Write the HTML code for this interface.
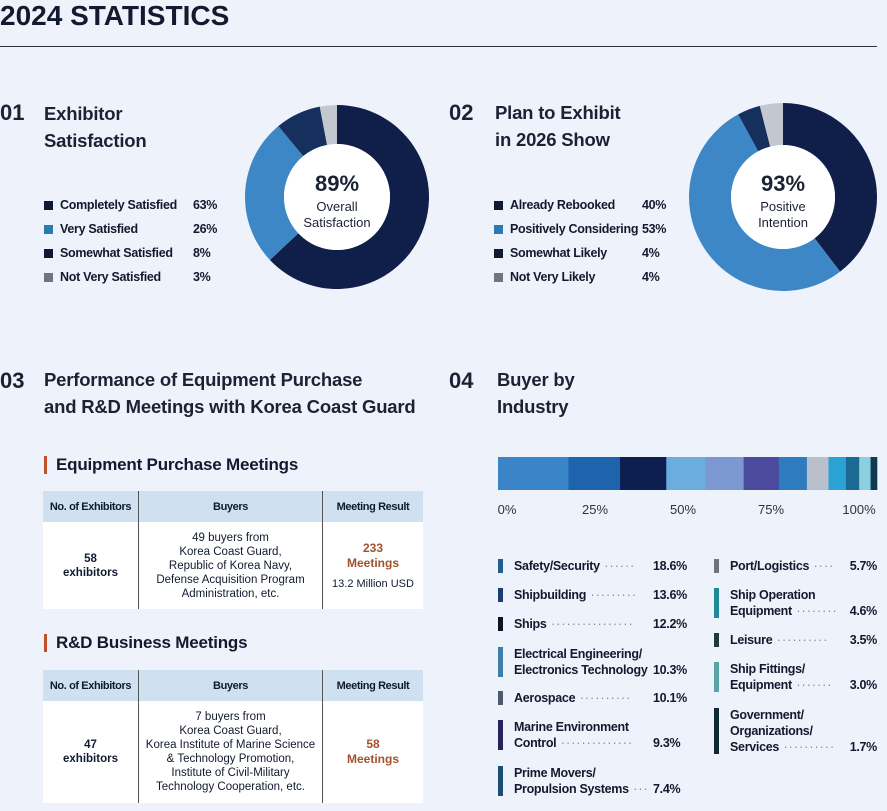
<!DOCTYPE html>
<html><head><meta charset="utf-8"><style>
body{margin:0;width:887px;height:811px;background:#eef2fa;font-family:"Liberation Sans",sans-serif;color:#111a2e;position:relative;overflow:hidden}
.a{position:absolute;white-space:nowrap}
.h{font-size:18.5px;font-weight:bold;line-height:27px;color:#1a2233;letter-spacing:-0.2px}
.num{font-size:22px;font-weight:bold;color:#1a2233}
.lg{font-size:12.5px;font-weight:bold;line-height:16px;letter-spacing:-0.3px}
.sq{position:absolute;width:9px;height:9px}
.vb{position:absolute;width:5px}
.dot{color:#888;font-weight:normal;letter-spacing:1px}
table{border-collapse:collapse;position:absolute;font-size:11.5px;text-align:center}
th{background:#cfe0f1;font-weight:bold;height:29px;font-size:11px;letter-spacing:-0.4px}
td{background:#fff;line-height:14px}
th+th,td+td{border-left:1px solid #555}
.sub{font-size:17px;font-weight:bold;border-left:3px solid #c0502a;padding-left:9px;line-height:18px;letter-spacing:-0.2px}
</style></head><body>
<div class="a" style="left:0;top:0px;font-size:28px;font-weight:bold">2024 STATISTICS</div>
<div class="a" style="left:0;top:46px;width:877px;height:1px;background:#333"></div>

<div class="a num" style="left:0;top:100px">01</div>
<div class="a h" style="left:44px;top:100px">Exhibitor<br>Satisfaction</div>
<div class="a num" style="left:449px;top:100px">02</div>
<div class="a h" style="left:495px;top:99px">Plan to Exhibit<br>in 2026 Show</div>
<div class="a num" style="left:0;top:368px">03</div>
<div class="a h" style="left:44px;top:366px">Performance of Equipment Purchase<br>and R&amp;D Meetings with Korea Coast Guard</div>
<div class="a num" style="left:449px;top:368px">04</div>
<div class="a h" style="left:497px;top:366px">Buyer by<br>Industry</div>

<svg class="a" id="donuts" style="left:0;top:0" width="887" height="811"></svg>
<div id="legends"></div>

<div class="a sub" style="left:44px;top:456px">Equipment Purchase Meetings</div>
<table style="left:43px;top:491px;width:380px">
<tr><th style="width:93px">No. of Exhibitors</th><th>Buyers</th><th style="width:98px">Meeting Result</th></tr>
<tr style="height:87px"><td><b>58<br>exhibitors</b></td><td>49 buyers from<br>Korea Coast Guard,<br>Republic of Korea Navy,<br>Defense Acquisition Program<br>Administration, etc.</td><td><b style="color:#a0522d;font-size:12px">233<br>Meetings</b><div style="margin-top:6px;font-size:11px">13.2 Million USD</div></td></tr>
</table>
<div class="a sub" style="left:44px;top:634px">R&amp;D Business Meetings</div>
<table style="left:43px;top:670px;width:380px">
<tr><th style="width:93px">No. of Exhibitors</th><th>Buyers</th><th style="width:98px">Meeting Result</th></tr>
<tr style="height:102px"><td><b>47<br>exhibitors</b></td><td>7 buyers from<br>Korea Coast Guard,<br>Korea Institute of Marine Science<br>&amp; Technology Promotion,<br>Institute of Civil-Military<br>Technology Cooperation, etc.</td><td><b style="color:#a0522d;font-size:12px">58<br>Meetings</b></td></tr>
</table>

<svg class="a" id="bar" style="left:0;top:0" width="887" height="530"></svg>

<script>
const satLabels=["Completely Satisfied","Very Satisfied","Somewhat Satisfied","Not Very Satisfied"];
const satValues=[63,26,8,3];
const planLabels=["Already Rebooked","Positively Considering","Somewhat Likely","Not Very Likely"];
const planValues=[40,53,4,4];
const industries=["Safety/Security","Shipbuilding","Ships","Electrical Engineering/\nElectronics Technology","Aerospace","Marine Environment\nControl","Prime Movers/\nPropulsion Systems","Port/Logistics","Ship Operation\nEquipment","Leisure","Ship Fittings/\nEquipment","Government/\nOrganizations/\nServices"];
const industryValues=[18.6,13.6,12.2,10.3,10.1,9.3,7.4,5.7,4.6,3.5,3.0,1.7];
const axisTicks=["0%","25%","50%","75%","100%"];

const NS="http://www.w3.org/2000/svg";
const donutColors=["#0f1f4a","#3d87c6","#16305e","#c3c7cf"];
const legColors=["#0f1a33","#2b7bb0","#0f1a33","#6f7480"];
function donut(svg,cx,cy,R,r,vals,name,big,l1,l2){
  const tot=vals.reduce((a,b)=>a+b,0);let a0=0;
  vals.forEach((v,i)=>{
    const a1=a0+v/tot*Math.PI*2;
    const p=(a,rr)=>[cx+rr*Math.sin(a),cy-rr*Math.cos(a)];
    const [x1,y1]=p(a0,R),[x2,y2]=p(a1,R),[x3,y3]=p(a1,r),[x4,y4]=p(a0,r);
    const lg=(a1-a0)>Math.PI?1:0;
    const path=document.createElementNS(NS,"path");
    path.setAttribute("d",`M${x1},${y1}A${R},${R} 0 ${lg} 1 ${x2},${y2}L${x3},${y3}A${r},${r} 0 ${lg} 0 ${x4},${y4}Z`);
    path.setAttribute("fill",donutColors[i]);
    
    
    svg.appendChild(path);a0=a1;
  });
  const c=document.createElementNS(NS,"circle");c.setAttribute("cx",cx);c.setAttribute("cy",cy);c.setAttribute("r",r);c.setAttribute("fill","#fff");svg.appendChild(c);
  [[big,-6,22,"bold"],[l1,14,13,"normal"],[l2,30,13,"normal"]].forEach(t=>{
    const e=document.createElementNS(NS,"text");e.setAttribute("x",cx);e.setAttribute("y",cy+t[1]);e.setAttribute("text-anchor","middle");
    e.setAttribute("font-size",t[2]);e.setAttribute("font-weight",t[3]);e.setAttribute("fill","#1a2233");e.textContent=t[0];
    
    
    svg.appendChild(e);
  });
}
const ds=document.getElementById("donuts");
donut(ds,337,197,92,53,satValues,"satisfaction-donut","89%","Overall","Satisfaction");
donut(ds,783,197,94,52,planValues,"plan-donut","93%","Positive","Intention");

const L=document.getElementById("legends");
function legend(labels,vals,x,vx,name){
  labels.forEach((lab,i)=>{
    const y=197+i*24;
    const s=document.createElement("div");s.className="sq";s.style.left=x+"px";s.style.top=(y+4)+"px";s.style.background=legColors[i];
    
    
    L.appendChild(s);
    const t=document.createElement("div");t.className="a lg";t.style.left=(x+16)+"px";t.style.top=y+"px";t.textContent=lab;
    
    
    L.appendChild(t);
    const v=document.createElement("div");v.className="a lg";v.style.left=vx+"px";v.style.top=y+"px";v.textContent=vals[i]+"%";
    
    
    L.appendChild(v);
  });
}
legend(satLabels,satValues,44,193,"satisfaction-legend");
legend(planLabels,planValues,494,642,"plan-legend");

const barColors=["#3a85c8","#1e64ac","#0c1f4f","#6aaee0","#7b98d0","#4b4a9c","#2e7bbf","#b9c0cc","#2aa2d6","#1b6a92","#8cd0e0","#0c3a50"];
const bs=document.getElementById("bar");
const bx0=498,bx1=877,by=457,bh=33;
const xs=v=>bx0+(bx1-bx0)*v/100;
let acc=0;
industryValues.forEach((v,i)=>{
  const r=document.createElementNS(NS,"rect");
  r.setAttribute("x",xs(acc));r.setAttribute("y",by);r.setAttribute("width",xs(acc+v)-xs(acc)+0.3);r.setAttribute("height",bh);r.setAttribute("fill",barColors[i]);
  
  
  bs.appendChild(r);acc+=v;
});
axisTicks.forEach((t,i)=>{
  const e=document.createElementNS(NS,"text");
  e.setAttribute("x",507+i*88);e.setAttribute("y",514);e.setAttribute("text-anchor","middle");e.setAttribute("font-size","13");e.setAttribute("fill","#333");
  e.textContent=t;
  
  
  bs.appendChild(e);
});

const legBarColors=["#1f5f8a","#1c3d6e","#0b1424","#3f7ea6","#4b5a70","#24235c","#1b4e72","#6f747c","#1f8a96","#1f3a40","#5aa3a6","#0f2a33"];
const leftTops=[558,587,616,646,690,719,765];
const rightTops=[558,587,632,661,707];
const dots=[" ······ "," ········· "," ················ "," "," ·········· "," ·············· "," ··· "," ···· "," ········ "," ·········· "," ······· "," ·········· "];
industries.forEach((lab,i)=>{
  const left=i<7;
  const top=left?leftTops[i]:rightTops[i-7];
  const x=left?498:714;
  const lines=lab.split("\n");
  const h=lines.length*16;
  const b=document.createElement("div");b.className="vb";b.style.left=x+"px";b.style.top=(top+1)+"px";b.style.height=(h-2)+"px";b.style.background=legBarColors[i];
  
  
  L.appendChild(b);
  const t=document.createElement("div");t.className="a lg";t.style.left=(x+16)+"px";t.style.top=top+"px";
  t.innerHTML=lines.join("<br>")+'<span class="dot">'+dots[i]+'</span>';
  
  
  L.appendChild(t);
  const v=document.createElement("div");v.className="a lg";v.style.top=(top+h-16)+"px";
  if(left){v.style.left="653px";}else{v.style.right="10px";}
  v.textContent=industryValues[i].toFixed(1)+"%";
  
  
  L.appendChild(v);
});
</script>
</body></html>
